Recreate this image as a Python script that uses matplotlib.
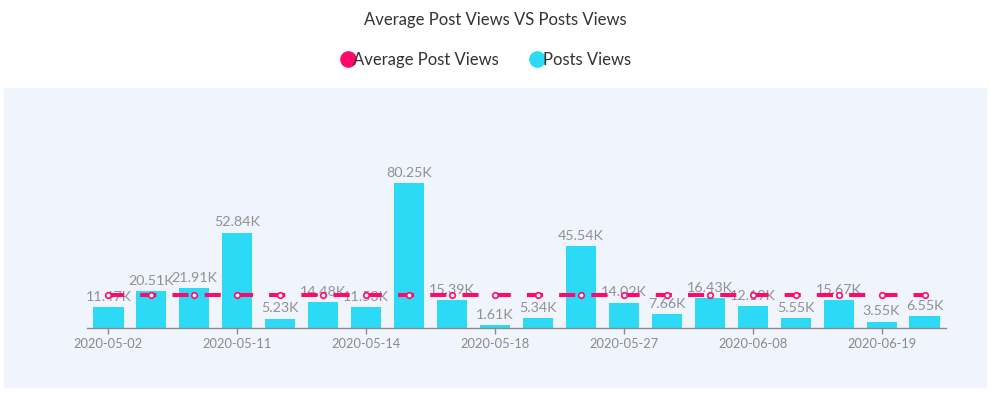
import matplotlib
matplotlib.use('Agg')
import matplotlib.pyplot as plt
from matplotlib.lines import Line2D
from matplotlib.patches import Rectangle
import numpy as np

plt.rcParams['font.family'] = ['Lato', 'DejaVu Sans']

# data (thousands of views)
dates = ['2020-05-02', '2020-05-05', '2020-05-08', '2020-05-11', '2020-05-12',
         '2020-05-13', '2020-05-14', '2020-05-15', '2020-05-16', '2020-05-18',
         '2020-05-20', '2020-05-24', '2020-05-27', '2020-05-30', '2020-06-03',
         '2020-06-08', '2020-06-12', '2020-06-15', '2020-06-19', '2020-06-22']
post_views = [11.47, 20.51, 21.91, 52.84, 5.23, 14.48, 11.53, 80.25, 15.39, 1.61,
              5.34, 45.54, 14.02, 7.66, 16.43, 12.19, 5.55, 15.67, 3.55, 6.55]
avg_views = 18.39
tick_every = 3

pink = '#ff0a6c'
cyan = '#2ddaf5'
grey = '#8a8a8a'

W, H = 990, 393
fig = plt.figure(figsize=(W / 100, H / 100), dpi=100)

# light background panel behind the chart
fig.patches.append(Rectangle((4 / W, 1 - 387 / H), 982 / W, 299 / H,
                             transform=fig.transFigure, color='#f0f4fc', zorder=-10))

ax = fig.add_axes([87 / W, 65 / H, 859 / W, 180 / H])
ax.set_facecolor('none')

x = np.arange(len(post_views))
ax.bar(x, post_views, width=0.7, color=cyan, zorder=2)
ax.plot(x, [avg_views] * len(x), color=pink, lw=2.9, dashes=(4, 4),
        marker='o', markersize=4.0, markerfacecolor='white',
        markeredgecolor=pink, markeredgewidth=1.2, zorder=3)

for xi, v in zip(x, post_views):
    ax.annotate(f'{v:.2f}K', (xi, v), xytext=(0, 3), textcoords='offset points',
                ha='center', va='bottom', fontsize=10.3, color='#919191', zorder=1)

ax.set_xlim(-0.5, len(x) - 0.5)
ax.set_ylim(0, 99.6)
ax.set_xticks(x[::tick_every])
ax.set_xticklabels(dates[::tick_every])
ax.tick_params(axis='x', colors=grey, labelsize=9.3, length=4, width=1, pad=3)
ax.set_yticks([])
for s in ['top', 'right', 'left']:
    ax.spines[s].set_visible(False)
ax.spines['bottom'].set_color(grey)
ax.spines['bottom'].set_linewidth(1)

fig.text(0.5, 1 - 20 / H, 'Average Post Views VS Posts Views', ha='center',
         va='center', fontsize=12, color='#333333')

handles = [Line2D([], [], ls='none', marker='o', markersize=11, color=pink),
           Line2D([], [], ls='none', marker='o', markersize=11, color=cyan)]
fig.legend(handles, ['Average Post Views', 'Posts Views'], loc='center',
           bbox_to_anchor=(487 / W, 1 - 60 / H), ncol=2, frameon=False,
           handlelength=0.6, handletextpad=0.05, columnspacing=2.0,
           fontsize=12, labelcolor='#333333')

fig.savefig('out.png', dpi=100)
